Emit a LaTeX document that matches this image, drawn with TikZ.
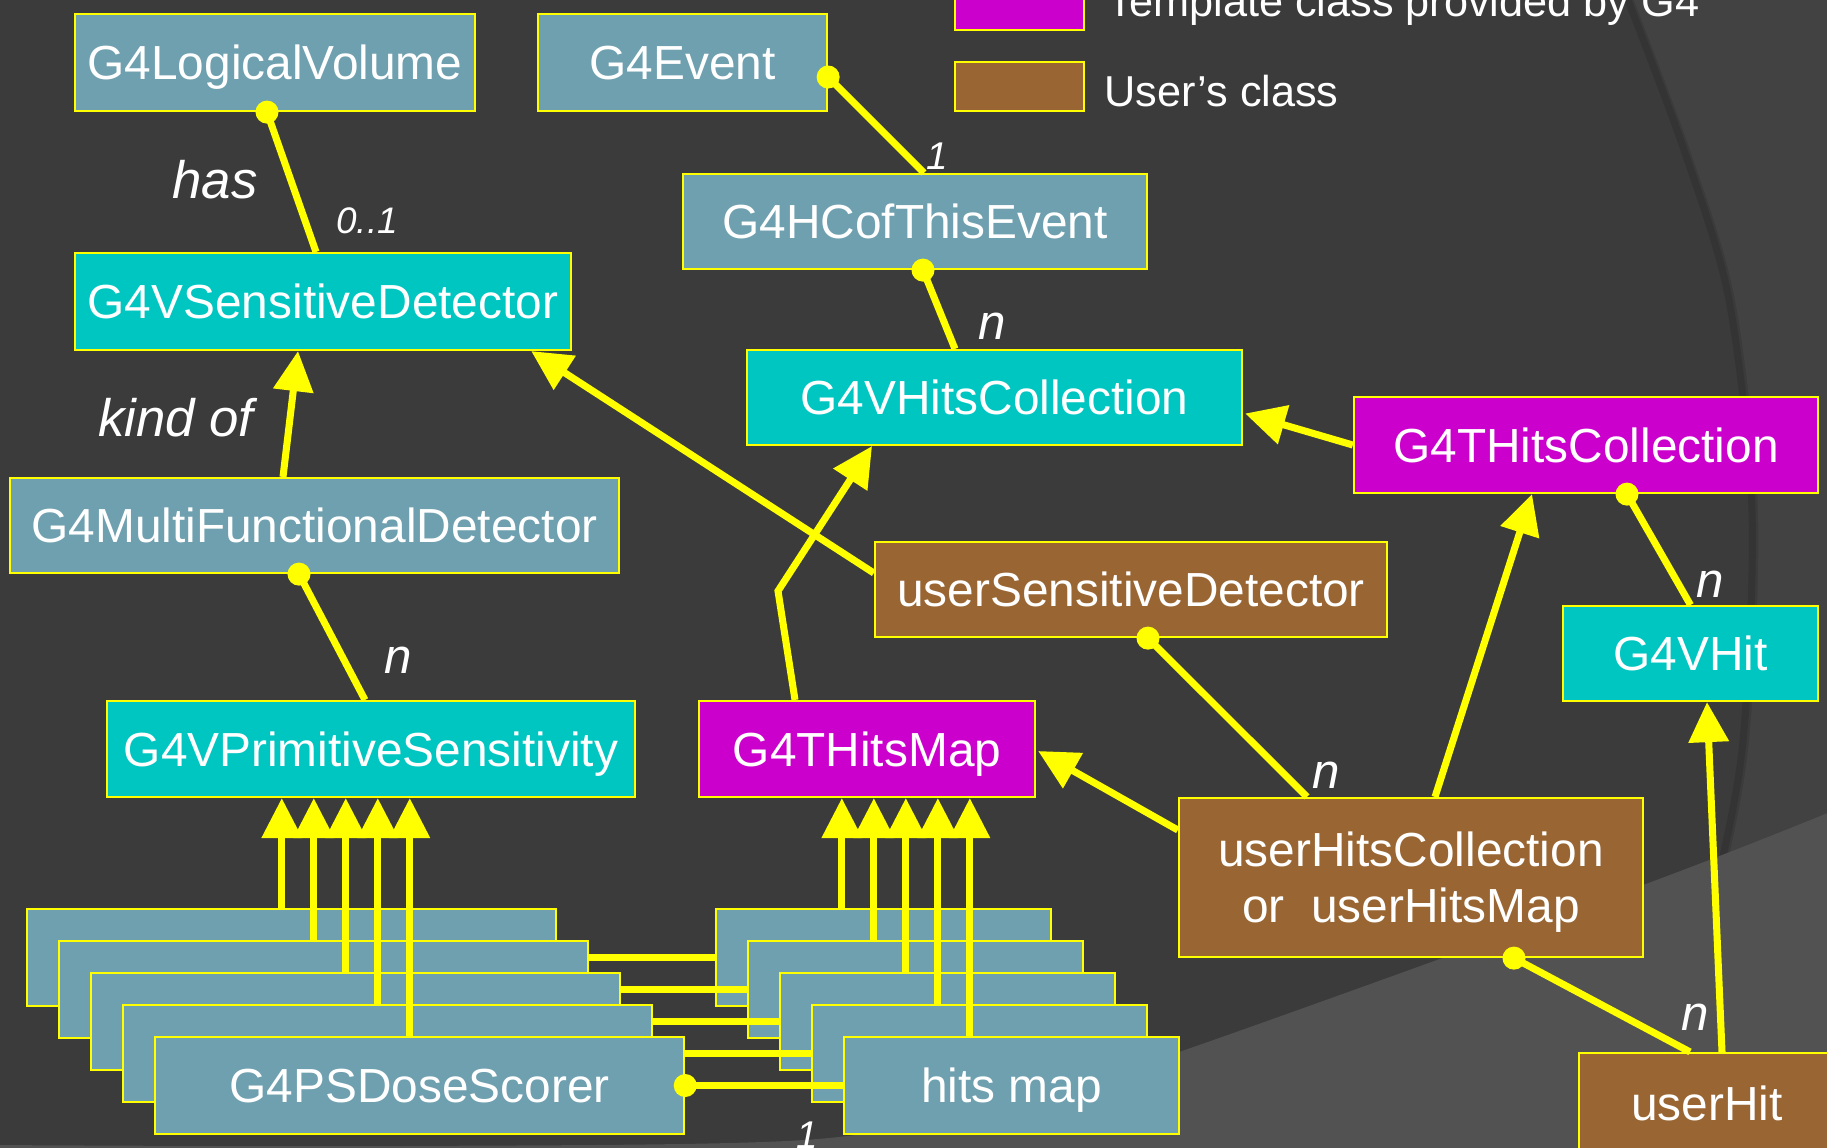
\documentclass[tikz,border=0pt]{standalone}
\usepackage{fontspec}
\setmainfont{Liberation Sans}
\usetikzlibrary{arrows.meta,calc}
\definecolor{bgA}{HTML}{3B3B3B}
\definecolor{bgB}{HTML}{424242}
\definecolor{bgC}{HTML}{525252}
\definecolor{bgS}{HTML}{343434}
\definecolor{cgrey}{HTML}{6FA0AF}
\definecolor{ccyan}{HTML}{00C6C2}
\definecolor{cmag}{HTML}{CC00CC}
\definecolor{cbrown}{HTML}{996633}
\definecolor{cyel}{HTML}{FFFF00}
\tikzset{
  box/.style={draw=cyel, line width=0.6pt, text=white, inner sep=0pt, align=center,
    text height=0.34cm, text depth=0cm,
    font=\fontsize{13.6pt}{16pt}\selectfont},
  gbox/.style={box, fill=cgrey},
  cbox/.style={box, fill=ccyan},
  mbox/.style={box, fill=cmag},
  bbox/.style={box, fill=cbrown},
  conn/.style={draw=cyel, line width=2pt},
  inh/.style={conn, -{Triangle[length=0.40cm,width=0.39cm]}},
  lbl/.style={text=white, inner sep=0pt, font=\fontsize{14pt}{16pt}\selectfont\itshape},
  lblsmall/.style={text=white, inner sep=0pt, font=\fontsize{10.5pt}{12pt}\selectfont\itshape},
  legtext/.style={text=white, inner sep=0pt, font=\fontsize{12.3pt}{14pt}\selectfont},
}
\begin{document}
\begin{tikzpicture}[x=0.01cm,y=-0.01cm]
\useasboundingbox (0,0) rectangle (1827,1147);
\clip (0,0) rectangle (1827,1147);
% background
\fill[bgA] (-10,-10) rectangle (1840,1160);
\fill[bgB] plot[smooth] coordinates {(1630,-10) (1690,150) (1735,300) (1758,512) (1748,750) (1712,930) (1655,1160)} -- (1840,1160) -- (1840,-10) -- cycle;
\draw[bgS, line width=0.07cm] plot[smooth] coordinates {(1624,-10) (1684,150) (1729,300) (1752,512) (1742,750) (1706,930) (1649,1160)};
\fill[bgC] plot[smooth] coordinates {(-10,1145) (400,1146) (804,1140) (1000,1106) (1179,1052) (1643,885) (1840,808)} -- (1840,1160) -- (-10,1160) -- cycle;

% legend
\node[mbox, minimum width=1.29cm, minimum height=0.49cm] (legT) at (1019.5,5.5) {};
\node[legtext, anchor=base west] (legTt) at (1107,16) {Template class provided by G4};
\node[bbox, minimum width=1.29cm, minimum height=0.49cm] (legU) at (1019.5,86.5) {};
\node[legtext, anchor=base west] (legUt) at (1104,106) {User's class};

% class boxes
\node[gbox, minimum width=4.00cm, minimum height=0.97cm] (lv) at (275,62.5) {G4LogicalVolume};
\node[gbox, minimum width=2.89cm, minimum height=0.97cm] (ev) at (682.5,62.5) {G4Event};
\node[gbox, minimum width=4.64cm, minimum height=0.95cm] (hce) at (915,221.5) {G4HCofThisEvent};
\node[cbox, minimum width=4.96cm, minimum height=0.97cm] (vsd) at (323,301.5) {G4VSensitiveDetector};
\node[cbox, minimum width=4.95cm, minimum height=0.95cm] (vhc) at (994.5,397.5) {G4VHitsCollection};
\node[mbox, minimum width=4.64cm, minimum height=0.96cm] (thc) at (1586,445) {G4THitsCollection};
\node[gbox, minimum width=6.09cm, minimum height=0.95cm] (mfd) at (314.5,525.5) {G4MultiFunctionalDetector};
\node[bbox, minimum width=5.12cm, minimum height=0.95cm] (usd) at (1131,589.5) {userSensitiveDetector};
\node[cbox, minimum width=2.55cm, minimum height=0.95cm] (vhit) at (1690.5,653.5) {G4VHit};
\node[cbox, minimum width=5.28cm, minimum height=0.96cm] (vps) at (371,749) {G4VPrimitiveSensitivity};
\node[mbox, minimum width=3.36cm, minimum height=0.96cm] (thm) at (867,749) {G4THitsMap};
\node[bbox, minimum width=4.64cm, minimum height=1.59cm, text height=0.90cm] (uhc) at (1411,877.5) {userHitsCollection\\or\ \ userHitsMap};
\node[bbox, minimum width=2.56cm, minimum height=1.00cm] (uhit) at (1707,1103) {userHit};

% stacks of scorers and hits maps
\foreach \i in {0,...,3} {
  \node[gbox, minimum width=5.29cm, minimum height=0.97cm] (ls\i) at ({291.5+32*\i},{957.5+32*\i}) {};
  \node[gbox, minimum width=3.35cm, minimum height=0.97cm] (rs\i) at ({883.5+32*\i},{957.5+32*\i}) {};
  \draw[conn] (ls\i.east) -- (rs\i.west);
}
\node[gbox, minimum width=5.29cm, minimum height=0.97cm] (ls4) at (419.5,1085.5) {G4PSDoseScorer};
\node[gbox, minimum width=3.35cm, minimum height=0.97cm] (rs4) at (1011.5,1085.5) {hits map};
\draw[conn] (ls4.east) -- (rs4.west);

\foreach \i in {0,...,4} {
  \coordinate (la\i) at ($(ls\i.north west)+(256,0)$);
  \coordinate (ra\i) at ($(rs\i.north west)+(127,0)$);
  \draw[inh] (la\i) -- (la\i |- vps.south);
  \draw[inh] (ra\i) -- (ra\i |- thm.south);
}

% associations (dot ends)
\coordinate (d1) at ($(lv.south)+(-8,0)$);
\coordinate (d2) at ($(ev.east)+(0,14.5)$);
\coordinate (d3) at ($(hce.south)+(8,0)$);
\coordinate (d4) at ($(mfd.south)+(-15.5,0)$);
\coordinate (d5) at ($(thc.south)+(41,0)$);
\coordinate (d6) at ($(usd.south)+(17,0)$);
\coordinate (d7) at ($(uhc.south)+(103,0)$);
\coordinate (d8) at (ls4.east);
\draw[conn] (d1) -- ($(vsd.north)+(-7,0)$);
\draw[conn] (d2) -- ($(hce.north)+(9,0)$);
\draw[conn] (d3) -- ($(vhc.north)+(-39.5,0)$);
\draw[conn] (d4) -- ($(vps.north)+(-6,0)$);
\draw[conn] (d5) -- (vhit.north);
\draw[conn] (d6) -- ($(uhc.north)+(-104,0)$);
\draw[conn] (d7) -- ($(uhit.north)+(-17,0)$);

% inheritance arrows
\draw[inh] ($(mfd.north)+(-31.5,0)$) -- ($(vsd.south)+(-25,0)$);
\draw[inh] ($(usd.west)+(0,-16.5)$) -- ($(vsd.south east)+(-41,0)$);
\coordinate (bend) at (778,591);
\draw[inh] ($(thm.north)+(-72,0)$) -- (bend) -- ($(vhc.south)+(-122.5,0)$);
\draw[inh] (thc.west) -- ($(vhc.east)+(2,16)$);
\draw[inh] ($(uhc.west)+(0,-47.5)$) -- ($(thm.east)+(2,2)$);
\draw[inh] ($(uhc.north)+(24,0)$) -- ($(thc.south)+(-54,0)$);
\draw[inh] ($(uhit.north)+(15,0)$) -- ($(vhit.south)+(16.5,0)$);

% dots
\foreach \p in {d1,d2,d3,d4,d5,d6,d7,d8} { \fill[cyel] (\p) circle (0.115cm); }

% labels
\node[lbl, font=\fontsize{15pt}{17pt}\selectfont\itshape] (lhas) at (215,180) {has};
\node[lblsmall] (l01) at (367,221) {0..1};
\node[lblsmall, font=\fontsize{11pt}{13pt}\selectfont\itshape] (l1a) at (937,156) {1};
\node[lbl] (ln1) at (992,326) {n};
\node[lbl, font=\fontsize{15pt}{17pt}\selectfont\itshape] (lkind) at (176,418) {kind of};
\node[lbl] (ln2) at (398,660) {n};
\node[lbl] (ln3) at (1710,584) {n};
\node[lbl] (ln4) at (1326,775) {n};
\node[lbl] (ln5) at (1695,1017) {n};
\node[lblsmall, font=\fontsize{11pt}{13pt}\selectfont\itshape] (l1b) at (807,1135) {1};
\end{tikzpicture}
\end{document}
